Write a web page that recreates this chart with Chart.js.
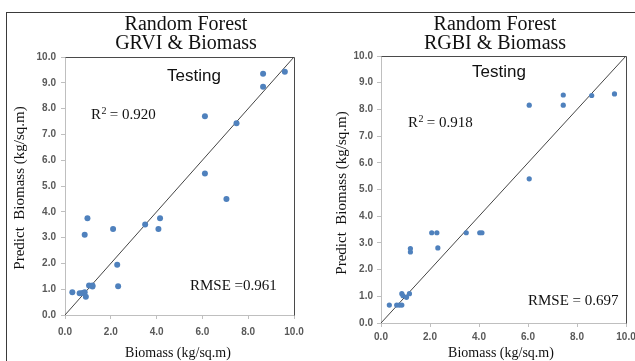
<!DOCTYPE html>
<html>
<head>
  <meta charset="utf-8">
  <title>Random Forest Testing</title>
  <script src="https://cdn.jsdelivr.net/npm/chart.js@4.4.0/dist/chart.umd.min.js"></script>
  <style>
    html, body {
      margin: 0;
      padding: 0;
      width: 635px;
      height: 361px;
      overflow: hidden;
      background: #fff;
    }
    #frame {
      position: absolute;
      left: 6px;
      top: 12px;
      right: 0;
      bottom: 0;
      border-top: 1px solid #3a3a3a;
      border-left: 1px solid #3a3a3a;
    }
    canvas {
      position: absolute;
      top: 0;
    }
    #grvi { left: 0; }
    #rgbi { left: 318px; }
  </style>
</head>
<body>
  <div id="frame"></div>
  <canvas id="grvi" width="318" height="361"></canvas>
  <canvas id="rgbi" width="317" height="361"></canvas>
  <script>
    const grviActual    = [0.32, 0.64, 0.76, 0.86, 0.91, 1.05, 1.20, 1.20, 0.86, 0.98, 2.10, 2.28, 2.32, 3.50, 4.08, 4.15, 7.05, 6.11, 6.11, 7.49, 8.65, 8.65, 9.60];
    const grviPredicted = [0.88, 0.84, 0.85, 0.88, 0.71, 1.14, 1.14, 1.10, 3.11, 3.75, 3.33, 1.95, 1.11, 3.51, 3.33, 3.75, 4.50, 7.70, 5.48, 7.43, 9.35, 8.85, 9.43];

    const rgbiActual    = [0.34, 0.64, 0.75, 0.85, 0.85, 0.90, 1.04, 1.16, 1.20, 1.20, 2.07, 2.28, 2.32, 3.48, 4.03, 4.12, 6.05, 6.05, 7.44, 7.44, 8.60, 9.53];
    const rgbiPredicted = [0.67, 0.67, 0.67, 0.67, 1.10, 1.02, 0.96, 1.10, 2.79, 2.66, 3.38, 3.38, 2.81, 3.38, 3.38, 3.38, 5.40, 8.16, 8.54, 8.16, 8.52, 8.58];

    // 1:1 line
    const lineX = [0, 10];
    const lineY = [0, 10];

    const titles = [["Random Forest", "GRVI & Biomass"], ["Random Forest", "RGBI & Biomass"]];
    const r2Values = ["0.920", "0.918"];
    const rmseLabels = ["RMSE =0.961", "RMSE = 0.697"];

    const SERIF = '"Liberation Serif", "Times New Roman", serif';
    const SANS = '"Liberation Sans", Arial, sans-serif';

    const textPlugin = {
      id: 'texts',
      afterDraw(chart, args, o) {
        const ctx = chart.ctx;
        const a = chart.chartArea;
        ctx.save();
        // dark top/right border of the plot area
        ctx.strokeStyle = '#4a4a4a';
        ctx.lineWidth = 1;
        ctx.beginPath();
        ctx.moveTo(Math.round(a.left) + 0.5, Math.round(a.top) + 0.5);
        ctx.lineTo(Math.round(a.right) + 0.5, Math.round(a.top) + 0.5);
        ctx.lineTo(Math.round(a.right) + 0.5, Math.round(a.bottom) + 0.5);
        ctx.stroke();

        ctx.fillStyle = '#111';
        ctx.textAlign = 'center';
        ctx.textBaseline = 'alphabetic';
        ctx.font = '20px ' + SERIF;
        ctx.fillText(o.title[0], o.titleX, o.titleY);
        ctx.fillText(o.title[1], o.titleX, o.titleY + 18.5);

        ctx.font = '17px ' + SANS;
        ctx.fillText('Testing', o.testX, o.testY);

        ctx.textAlign = 'left';
        ctx.font = '15px ' + SERIF;
        ctx.fillText('R', o.r2X, o.r2Y);
        let w = ctx.measureText('R').width;
        ctx.font = '10px ' + SERIF;
        ctx.fillText('2', o.r2X + w + 0.5, o.r2Y - 5);
        ctx.font = '15px ' + SERIF;
        ctx.fillText(' = ' + o.r2, o.r2X + w + 5, o.r2Y);

        ctx.fillText(o.rmse, o.rmseX, o.rmseY);

        ctx.textAlign = 'center';
        ctx.font = '14px ' + SERIF;
        ctx.fillText('Biomass (kg/sq.m)', o.xTitleX, 357);

        ctx.translate(o.yTitleX, o.yTitleY);
        ctx.rotate(-Math.PI / 2);
        ctx.textBaseline = 'middle';
        ctx.font = '15px ' + SERIF;
        ctx.fillText('Predict  Biomass (kg/sq.m)', 0, 0);
        ctx.restore();
      }
    };

    function makeChart(id, xs, ys, cfg) {
      const points = xs.map((x, i) => ({ x: x, y: ys[i] }));
      const diag = lineX.map((x, i) => ({ x: x, y: lineY[i] }));
      const tickFont = { family: SANS, size: 10, weight: 'bold' };
      return new Chart(document.getElementById(id), {
        type: 'scatter',
        data: {
          datasets: [
            {
              data: points,
              backgroundColor: '#4f81bd',
              borderColor: '#4f81bd',
              borderWidth: 0,
              pointRadius: cfg.radius
            },
            {
              type: 'line',
              data: diag,
              borderColor: '#454545',
              borderWidth: 1,
              pointRadius: 0,
              fill: false
            }
          ]
        },
        options: {
          responsive: false,
          animation: false,
          layout: { padding: { left: 0, right: cfg.padRight, top: cfg.padTop, bottom: 0 } },
          plugins: {
            legend: { display: false },
            tooltip: { enabled: false },
            texts: cfg.texts
          },
          scales: {
            x: {
              type: 'linear',
              min: 0,
              max: 10,
              ticks: {
                stepSize: 2,
                padding: cfg.xPad,
                color: '#595959',
                font: tickFont,
                callback: v => v.toFixed(1)
              },
              grid: { drawOnChartArea: false, drawTicks: true, tickLength: 4, color: '#bfbfbf' },
              border: { color: '#bfbfbf' },
              afterFit(s) { s.height = cfg.xHeight; s.paddingLeft = 0; s.paddingRight = 0; }
            },
            y: {
              type: 'linear',
              min: 0,
              max: 10,
              ticks: {
                stepSize: 1,
                padding: cfg.yPad,
                color: '#595959',
                font: tickFont,
                callback: v => v.toFixed(1)
              },
              grid: { drawOnChartArea: false, drawTicks: true, tickLength: 4, color: '#bfbfbf' },
              border: { color: '#bfbfbf' },
              afterFit(s) { s.width = cfg.yWidth; s.paddingTop = 0; s.paddingBottom = 0; }
            }
          }
        },
        plugins: [textPlugin]
      });
    }

    makeChart('grvi', grviActual, grviPredicted, {
      radius: 3, padRight: 24, padTop: 57, xHeight: 46, yWidth: 65, xPad: 7, yPad: 5,
      texts: {
        title: titles[0], titleX: 186, titleY: 30,
        testX: 194, testY: 81,
        r2: r2Values[0], r2X: 91, r2Y: 119,
        rmse: rmseLabels[0], rmseX: 190, rmseY: 290,
        xTitleX: 178, yTitleX: 20, yTitleY: 188
      }
    });

    makeChart('rgbi', rgbiActual, rgbiPredicted, {
      radius: 2.6, padRight: 9, padTop: 56, xHeight: 38, yWidth: 63, xPad: 4, yPad: 4,
      texts: {
        title: titles[1], titleX: 177, titleY: 30,
        testX: 181, testY: 77,
        r2: r2Values[1], r2X: 90, r2Y: 127,
        rmse: rmseLabels[1], rmseX: 210, rmseY: 305,
        xTitleX: 183, yTitleX: 24, yTitleY: 193
      }
    });
  </script>
</body>
</html>
